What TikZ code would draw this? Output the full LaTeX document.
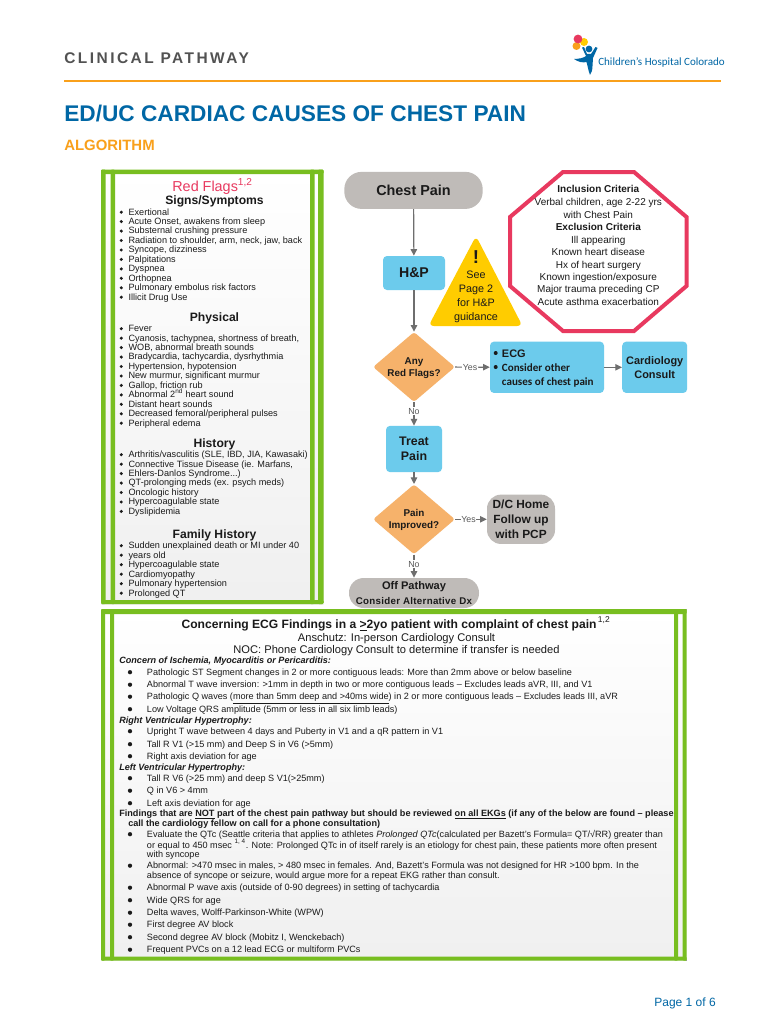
\documentclass[tikz,border=0pt]{standalone}
\usepackage{fontspec}
\setmainfont{Liberation Sans}
\newfontfamily\calfont{Carlito}
\usetikzlibrary{arrows.meta,shapes.geometric}
\definecolor{cpgreen}{HTML}{78BE20}
\definecolor{cpblue}{HTML}{6CCBEC}
\definecolor{cpgray}{HTML}{BFBBB8}
\definecolor{cporange}{HTML}{F6B26B}
\definecolor{cpred}{HTML}{E8395F}
\definecolor{cpyellow}{HTML}{FFCC00}
\definecolor{cptitle}{HTML}{0067A5}
\definecolor{cpamber}{HTML}{F9A01B}
\definecolor{cptxt}{HTML}{1A1A1A}
\definecolor{cpline}{HTML}{6E6E6E}
\newcounter{tn}
\newcommand{\tx}[4][]{\stepcounter{tn}\node[anchor=base west,inner sep=0pt,text=cptxt,#1] (t\thetn) at (#2,#3) {#4};}
\newcommand{\cx}[4][]{\stepcounter{tn}\node[anchor=base,inner sep=0pt,text=cptxt,#1] (t\thetn) at (#2,#3) {#4};}
\newcommand{\li}[2]{\stepcounter{tn}\node[circle,fill=cptxt,inner sep=0pt,minimum size=2.5pt] (t\thetn) at (121.3,#1-2.8) {};\tx[font=\fontsize{6.85}{8}\selectfont]{128.3}{#1}{#2}}
\newcommand{\lo}[2]{\stepcounter{tn}\node[circle,fill=cptxt,inner sep=0pt,minimum size=3.2pt] (t\thetn) at (130,#1-2.8) {};\tx[font=\fontsize{6.83}{8}\selectfont]{146.7}{#1}{#2}}
\newcommand{\oc}[3][]{\cx[font=#1\fontsize{7.5}{9}\selectfont]{598.3}{#2}{#3}}
\newcommand{\hd}[2]{\cx[font=\bfseries\fontsize{9.1}{11}\selectfont]{214.5}{#1}{#2}}
\tikzset{
 x=0.75pt,y=-0.75pt,
 flow/.style={draw=cpline,line width=0.9pt,-{Triangle[length=5pt,width=4.8pt]}},
 bluebox/.style={fill=cpblue,rounded corners=3pt,inner sep=0pt,text=cptxt,align=center},
 graybox/.style={fill=cpgray,inner sep=0pt,text=cptxt,align=center},
 dec/.style={diamond,fill=cporange,inner sep=0pt,rounded corners=2pt,minimum width=61.5pt,minimum height=52.5pt},
 dectext/.style={anchor=base,inner sep=0pt,text=cptxt,font=\bfseries\fontsize{7.4}{10}\selectfont},
 lab/.style={fill=white,inner sep=0.6pt,text=cpline!80!black,font=\fontsize{6.6}{8}\selectfont},
 frameline/.style={fill=cpgreen,rounded corners=0.8pt},
 tri/.style={anchor=base,inner sep=0pt,text=cptxt,font=\fontsize{8.1}{10}\selectfont},
}
\begin{document}
\begin{tikzpicture}
\useasboundingbox (0,0) rectangle (770,1024);
\fill[white] (0,0) rectangle (770,1024);
% header
\node[anchor=base west,inner sep=0pt,text=black!68,font=\bfseries\fontsize{11.6}{13}\selectfont] (head) at (64,63.3) {\addfontfeature{LetterSpace=16}CLINICAL PATHWAY};
\fill[cpamber] (64,79.8) rectangle (721,82.2);
\node[anchor=base west,inner sep=0pt,text=cptitle,font=\bfseries\fontsize{17}{21}\selectfont] (title) at (64,122) {ED/UC CARDIAC CAUSES OF CHEST PAIN};
\node[anchor=base west,inner sep=0pt,text=cpamber,font=\bfseries\fontsize{11.2}{14}\selectfont] (sub) at (64,150) {ALGORITHM};
% logo
\fill[cpamber] (576.5,46) circle (4);
\fill[cpyellow] (584,42) circle (4);
\fill[cpred] (578,39) circle (4.4);
\fill[cptitle] (589,49) circle (3.4);
\fill[cptitle] (582,47.5) -- (584,47) -- (587,54) -- (591,54) -- (595.5,47) -- (597.5,48) -- (593,58) -- (592.5,66) .. controls (592.5,70) and (591.5,73) .. (590,75) .. controls (588,70) and (587.5,65) .. (586.5,62) .. controls (583,63) and (578,62) .. (574,59) .. controls (578,59) and (584,58) .. (586,56) -- cycle;
\node[anchor=base west,inner sep=0pt,text=cptitle,font=\calfont\fontsize{8.3}{10}\selectfont] (logotext) at (598,65) {Children’s Hospital Colorado};
% left panel
\fill[top color=white,bottom color=black!6] (101,169.5) rectangle (323.5,604);
\foreach \a/\b in {101/105.7,110.7/115,310/314.5,318/323.5}{\fill[frameline] (\a,169.5) rectangle (\b,604);}
\fill[frameline] (101,169.5) rectangle (323.5,174);
\fill[frameline] (101,600) rectangle (323.5,604);
\cx[text=cpred,font=\fontsize{10.8}{14}\selectfont]{212.5}{191}{Red Flags\textsuperscript{1,2}}
\hd{204.3}{Signs/Symptoms}
\li{215}{Exertional}
\li{224.4}{Acute Onset, awakens from sleep}
\li{233.9}{Substernal crushing pressure}
\li{243.3}{Radiation to shoulder, arm, neck, jaw, back}
\li{252.8}{Syncope, dizziness}
\li{262.2}{Palpitations}
\li{271.7}{Dyspnea}
\li{281.1}{Orthopnea}
\li{290.6}{Pulmonary embolus risk factors}
\li{300}{Illicit Drug Use}
\hd{321.5}{Physical}
\li{331.5}{Fever}
\li{341}{Cyanosis, tachypnea, shortness of breath,}
\li{350.4}{WOB, abnormal breath sounds}
\li{359.9}{Bradycardia, tachycardia, dysrhythmia}
\li{369.3}{Hypertension, hypotension}
\li{378.8}{New murmur, significant murmur}
\li{388.2}{Gallop, friction rub}
\li{397.7}{Abnormal 2\textsuperscript{nd} heart sound}
\li{407.1}{Distant heart sounds}
\li{416.6}{Decreased femoral/peripheral pulses}
\li{426}{Peripheral edema}
\hd{447}{History}
\li{457.5}{Arthritis/vasculitis (SLE, IBD, JIA, Kawasaki)}
\li{467}{Connective Tissue Disease (ie. Marfans,}
\li{476.4}{Ehlers-Danlos Syndrome...)}
\li{485.9}{QT-prolonging meds (ex. psych meds)}
\li{495.3}{Oncologic history}
\li{504.8}{Hypercoagulable state}
\li{514.2}{Dyslipidemia}
\hd{538}{Family History}
\li{548.5}{Sudden unexplained death or MI under 40}
\li{558}{years old}
\li{567.5}{Hypercoagulable state}
\li{577}{Cardiomyopathy}
\li{586.5}{Pulmonary hypertension}
\li{596}{Prolonged QT}
% flow
\node[graybox,rounded corners=13pt,minimum width=103.8pt,minimum height=27.8pt,font=\bfseries\fontsize{10.8}{13}\selectfont] (cp) at (413.5,190.4) {Chest Pain};
\node[bluebox,minimum width=46.5pt,minimum height=25.5pt,font=\bfseries\fontsize{10.6}{13}\selectfont] (hp) at (414,273) {H\&P};
\node[dec] (rf) at (414,367) {};
\node[dectext] (rfa) at (414,364) {Any};
\node[dectext] (rfb) at (414,376.5) {Red Flags?};
\node[bluebox,minimum width=42pt,minimum height=34.7pt,font=\bfseries\fontsize{9.3}{11}\selectfont] (treat) at (414,449) {Treat\\Pain};
\node[dec] (pi) at (414,519.3) {};
\node[dectext] (pia) at (414,516.2) {Pain};
\node[dectext] (pib) at (414,528.8) {Improved?};
\node[graybox,rounded corners=11pt,minimum width=97.5pt,minimum height=22.5pt] (off) at (414,593) {};
\node[anchor=base,inner sep=0pt,text=cptxt,font=\bfseries\fontsize{8.3}{10}\selectfont] (offa) at (414,589.5) {Off Pathway};
\node[anchor=base,inner sep=0pt,text=cptxt,font=\bfseries\fontsize{7.3}{9}\selectfont] (offb) at (414,604.5) {\addfontfeature{LetterSpace=3}Consider Alternative Dx};
\node[bluebox,minimum width=85.5pt,minimum height=38.5pt] (ecg) at (547,367.3) {};
\node[inner sep=0pt,circle,fill=cptxt,minimum size=3pt] (b1) at (495.7,353) {};
\node[inner sep=0pt,circle,fill=cptxt,minimum size=3pt] (b2) at (495.7,367) {};
\node[anchor=base west,inner sep=0pt,text=cptxt,font=\bfseries\fontsize{8.2}{10}\selectfont] (e1) at (501.7,357) {ECG};
\node[anchor=base west,inner sep=0pt,text=cptxt,font=\calfont\bfseries\fontsize{8.3}{9}\selectfont] (e2) at (501.7,371) {Consider other};
\node[anchor=base west,inner sep=0pt,text=cptxt,font=\calfont\bfseries\fontsize{8.3}{9}\selectfont] (e3) at (501.7,385) {causes of chest pain};
\node[bluebox,minimum width=48.7pt,minimum height=38.5pt,font=\bfseries\fontsize{8.2}{10.6}\selectfont] (card) at (654.7,367.3) {Cardiology\\Consult};
\node[graybox,rounded corners=10.5pt,minimum width=51pt,minimum height=37pt,font=\bfseries\fontsize{8.9}{11}\selectfont] (dc) at (521,519.3) {D/C Home\\Follow up\\with PCP};
\draw[flow] (cp) -- (hp);
\draw[flow] (hp) -- (rf);
\draw[flow] (rf) -- node[lab,pos=.38]{No} (treat);
\draw[flow] (treat) -- (pi);
\draw[flow] (pi) -- node[lab,pos=.42]{No} (off);
\draw[flow] (rf) -- node[lab,pos=.43]{Yes} (ecg);
\draw[flow] (pi) -- node[lab,pos=.42]{Yes} (dc);
\draw[flow] (ecg) -- (card);
% warning triangle
\fill[cpyellow,rounded corners=4pt] (476,236) -- (522.5,326) -- (428.5,326) -- cycle;
\node[anchor=base,inner sep=0pt,text=cptxt,font=\bfseries\fontsize{14}{15}\selectfont] (excl) at (476,263) {!};
\node[tri] (see) at (476,278.5) {See};
\node[tri] (see2) at (476,292.5) {Page 2};
\node[tri] (see3) at (476,306) {for H\&P};
\node[tri] (see4) at (476,320) {guidance};
% stop octagon
\draw[cpred,line width=3pt,line join=miter,fill=white] (563,172) -- (634,172) -- (686.5,217) -- (686.5,286) -- (634,331) -- (563,331) -- (510,286) -- (510,217) -- cycle;
\oc[\bfseries]{192.5}{Inclusion Criteria}
\oc{205}{Verbal children, age 2-22 yrs}
\oc{218}{with Chest Pain}
\oc[\bfseries]{230.3}{Exclusion Criteria}
\oc{243}{Ill appearing}
\oc{255.3}{Known heart disease}
\oc{268}{Hx of heart surgery}
\oc{280.3}{Known ingestion/exposure}
\oc{292.6}{Major trauma preceding CP}
\oc{305}{Acute asthma exacerbation}
% lower panel
\fill[top color=white,bottom color=black!6] (101,609) rectangle (686.7,960.7);
\foreach \a/\b in {101/105,110/114,674/678,682.7/686.7}{\fill[frameline] (\a,609) rectangle (\b,960.7);}
\fill[frameline] (101,609) rectangle (686.7,614);
\fill[frameline] (101,956.7) rectangle (686.7,960.7);
\cx[font=\bfseries\fontsize{9.07}{11}\selectfont]{396}{628}{Concerning ECG Findings in a \underline{>}2yo patient with complaint of chest pain\textsuperscript{\mdseries\,1,2}}
\cx[font=\fontsize{8.35}{10}\selectfont]{396.5}{641}{Anschutz: In-person Cardiology Consult}
\cx[font=\fontsize{8.35}{10}\selectfont]{396.5}{653}{NOC: Phone Cardiology Consult to determine if transfer is needed}
\tx[font=\bfseries\itshape\fontsize{6.82}{8}\selectfont]{119}{663}{Concern of Ischemia, Myocarditis or Pericarditis:}
\lo{675}{Pathologic ST Segment changes in 2 or more contiguous leads: More than 2mm above or below baseline}
\lo{687.5}{Abnormal T wave inversion: >1mm in depth in two or more contiguous leads – Excludes leads aVR, III, and V1}
\lo{699.5}{Pathologic Q waves (\underline{more than 5mm deep and >40ms wide}) in 2 or more contiguous leads – Excludes leads III, aVR}
\lo{712}{Low Voltage QRS amplitude (5mm or less in all six limb leads)}
\tx[font=\bfseries\itshape\fontsize{6.82}{8}\selectfont]{119}{723}{Right Ventricular Hypertrophy:}
\lo{734}{Upright T wave between 4 days and Puberty in V1 and a qR pattern in V1}
\lo{747}{Tall R V1 (>15 mm) and Deep S in V6 (>5mm)}
\lo{759}{Right axis deviation for age}
\tx[font=\bfseries\itshape\fontsize{6.82}{8}\selectfont]{119}{770}{Left Ventricular Hypertrophy:}
\lo{781}{Tall R V6 (>25 mm) and deep S V1(>25mm)}
\lo{793.5}{Q in V6 > 4mm}
\lo{806}{Left axis deviation for age}
\tx[font=\bfseries\fontsize{6.84}{8}\selectfont]{119}{816}{Findings that are \underline{NOT} part of the chest pain pathway but should be reviewed \underline{on all EKGs} (if any of the below are found – please}
\tx[font=\bfseries\fontsize{6.84}{8}\selectfont]{128}{826}{call the cardiology fellow on call for a phone consultation)}
\lo{837}{Evaluate the QTc (Seattle criteria that applies to athletes \textit{Prolonged QTc}(calculated per Bazett's Formula= QT/√RR) greater than}
\tx[font=\fontsize{6.83}{8}\selectfont]{146.7}{848}{or equal to 450 msec \textsuperscript{1, 4}. Note: Prolonged QTc in of itself rarely is an etiology for chest pain, these patients more often present}
\tx[font=\fontsize{6.83}{8}\selectfont]{146.7}{857}{with syncope}
\lo{868.5}{Abnormal:  >470 msec in males, > 480 msec in females. And, Bazett's Formula was not designed for HR >100 bpm. In the}
\tx[font=\fontsize{6.83}{8}\selectfont]{146.7}{878.5}{absence of syncope or seizure, would argue more for a repeat EKG rather than consult.}
\lo{890.5}{Abnormal P wave axis (outside of 0-90 degrees) in setting of tachycardia}
\lo{903}{Wide QRS for age}
\lo{915.5}{Delta waves, Wolff-Parkinson-White (WPW)}
\lo{927.5}{First degree AV block}
\lo{940}{Second degree AV block (Mobitz I, Wenckebach)}
\lo{952.5}{Frequent PVCs on a 12 lead ECG or multiform PVCs}
% footer
\node[anchor=base east,inner sep=0pt,text=cptitle,font=\fontsize{9}{11}\selectfont] (pg) at (716,1006) {Page 1 of 6};
\end{tikzpicture}
\end{document}
